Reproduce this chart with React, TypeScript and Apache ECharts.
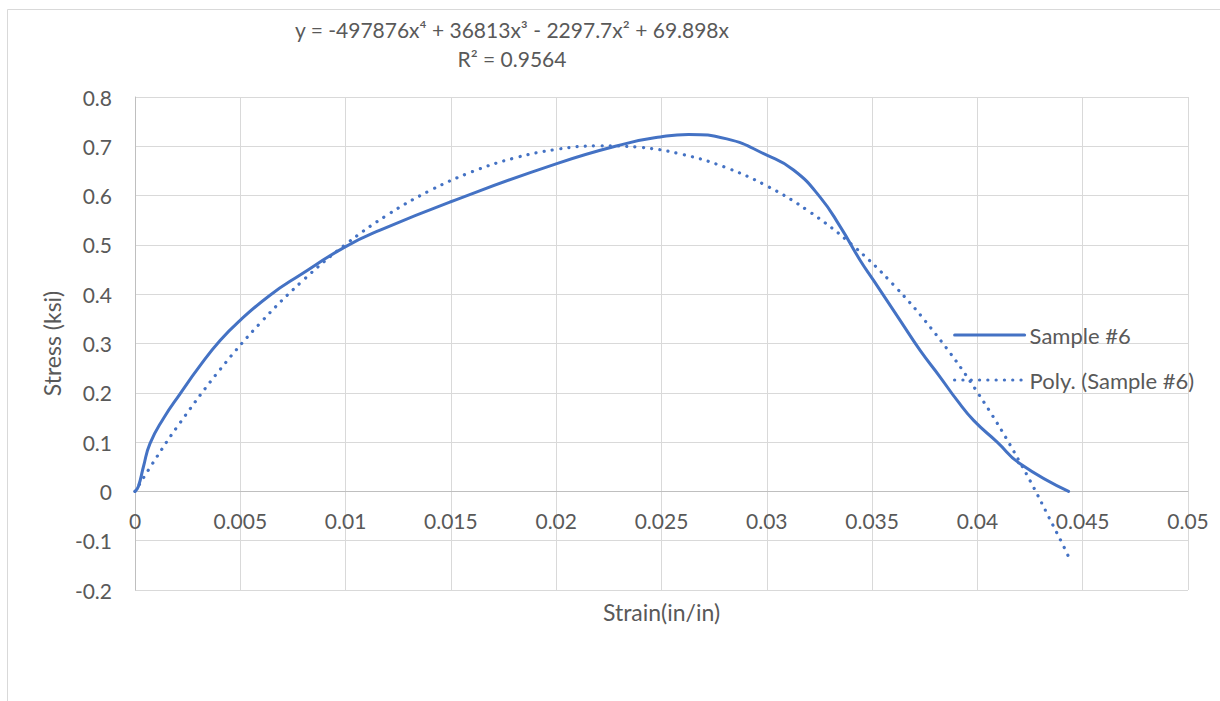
import React, { useEffect, useRef } from "react";
import * as echarts from "echarts";

// Measured curve: [strain (in/in), stress (ksi)]
const sampleStrain = [0, 0.00016, 0.0004, 0.00071, 0.00135, 0.00214, 0.00309, 0.00404, 0.00499, 0.00641, 0.00784, 0.00998, 0.01164, 0.01496, 0.02003, 0.02335, 0.02494, 0.02628, 0.0281, 0.03, 0.03127, 0.03253, 0.0335, 0.03443, 0.03507, 0.03633, 0.03728, 0.03823, 0.03903, 0.03982, 0.04094, 0.04203, 0.04433];
const sampleStress = [0, 0.01, 0.05, 0.097, 0.148, 0.198, 0.255, 0.306, 0.347, 0.398, 0.439, 0.496, 0.53, 0.587, 0.665, 0.706, 0.719, 0.724, 0.715, 0.682, 0.652, 0.597, 0.536, 0.469, 0.428, 0.347, 0.286, 0.232, 0.185, 0.144, 0.1, 0.056, 0.0];

// Polynomial trendline values
const polyStrain = [0, 0.001, 0.002, 0.004, 0.006, 0.008, 0.01, 0.012, 0.014, 0.016, 0.018, 0.02, 0.022, 0.024, 0.026, 0.028, 0.03, 0.032, 0.034, 0.036, 0.038, 0.04, 0.042, 0.044, 0.0443];
const polyStress = [0, 0.0676, 0.1309, 0.2451, 0.344, 0.4289, 0.501, 0.5612, 0.6101, 0.6483, 0.6761, 0.6937, 0.701, 0.6978, 0.6836, 0.6578, 0.6197, 0.5681, 0.502, 0.4198, 0.3201, 0.2011, 0.0607, -0.1031, -0.1298];

const seriesNames = ["Sample #6", "Poly. (Sample #6)"];
const equationText = "y = -497876x⁴ + 36813x³ - 2297.7x² + 69.898x";
const r2Text = "R² = 0.9564";
const xTitle = "Strain(in/in)";
const yTitle = "Stress (ksi)";

const FONT = "Lato, 'Open Sans', sans-serif";
const TEXT = "#595959";
const BLUE = "#4472C4";

export default function App() {
  const ref = useRef<HTMLDivElement>(null);
  useEffect(() => {
    if (!ref.current) return;
    const chart = echarts.init(ref.current, null, { renderer: "svg" });
    const fmt = (v: number) => String(+v.toFixed(4));
    chart.setOption({
      animation: false,
      backgroundColor: "#ffffff",
      textStyle: { fontFamily: FONT },
      grid: { left: 135, right: 32, top: 97, bottom: 111, containLabel: false, outerBoundsMode: "none" },
      graphic: [
        {
          type: "rect",
          silent: true,
          shape: { x: 7.5, y: 9.5, width: 1400, height: 900 },
          style: { fill: "none", stroke: "#d9d9d9", lineWidth: 1 },
        },
        {
          type: "text",
          x: 512,
          y: 29,
          style: { text: equationText, fontSize: 21, fontFamily: FONT, fill: TEXT, align: "center", verticalAlign: "middle" },
        },
        {
          type: "text",
          x: 512,
          y: 58,
          style: { text: r2Text, fontSize: 21, fontFamily: FONT, fill: TEXT, align: "center", verticalAlign: "middle" },
        },
      ],
      legend: {
        orient: "vertical",
        left: 953,
        top: 324,
        padding: 0,
        itemWidth: 70,
        itemHeight: 14,
        itemGap: 23,
        itemStyle: { opacity: 0 },
        lineStyle: { width: "inherit" },
        textStyle: { fontSize: 22, color: TEXT, fontFamily: FONT },
        data: seriesNames,
      },
      xAxis: {
        type: "value",
        min: 0,
        max: 0.05,
        interval: 0.005,
        offset: -98.6,
        name: xTitle,
        nameLocation: "middle",
        nameGap: 109,
        nameTextStyle: { fontSize: 23, color: TEXT, fontFamily: FONT },
        axisLine: { show: true, onZero: false, lineStyle: { color: "#bfbfbf", width: 1 } },
        axisTick: { show: false },
        axisLabel: { fontSize: 21, color: TEXT, fontFamily: FONT, margin: 19, formatter: fmt },
        splitLine: { show: true, lineStyle: { color: "#d9d9d9", width: 1 } },
      },
      yAxis: {
        type: "value",
        min: -0.2,
        max: 0.8,
        interval: 0.1,
        name: yTitle,
        nameLocation: "middle",
        nameRotate: 90,
        nameGap: 71,
        nameTextStyle: { fontSize: 23, color: TEXT, fontFamily: FONT },
        axisLine: { show: true, onZero: false, lineStyle: { color: "#bfbfbf", width: 1 } },
        axisTick: { show: false },
        axisLabel: { fontSize: 21, color: TEXT, fontFamily: FONT, margin: 23, formatter: fmt },
        splitLine: { show: true, lineStyle: { color: "#d9d9d9", width: 1 } },
      },
      series: [
        {
          name: seriesNames[0],
          type: "line",
          data: sampleStrain.map((x, i) => [x, sampleStress[i]]),
          smooth: 0.5,
          symbol: "none",
          showSymbol: false,
          lineStyle: { color: BLUE, width: 3, cap: "round", join: "round" },
          itemStyle: { color: BLUE },
          z: 3,
        },
        {
          name: seriesNames[1],
          type: "line",
          data: polyStrain.map((x, i) => [x, polyStress[i]]),
          smooth: 0.4,
          symbol: "none",
          showSymbol: false,
          lineStyle: { color: BLUE, width: 3.2, type: [0.1, 8.2], cap: "round" },
          itemStyle: { color: BLUE },
          z: 2,
        },
      ],
    });
    return () => chart.dispose();
  }, []);
  return (
    <div
      ref={ref}
      style={{ position: "absolute", left: 0, top: 0, width: 1220, height: 701, background: "#fff" }}
    />
  );
}
